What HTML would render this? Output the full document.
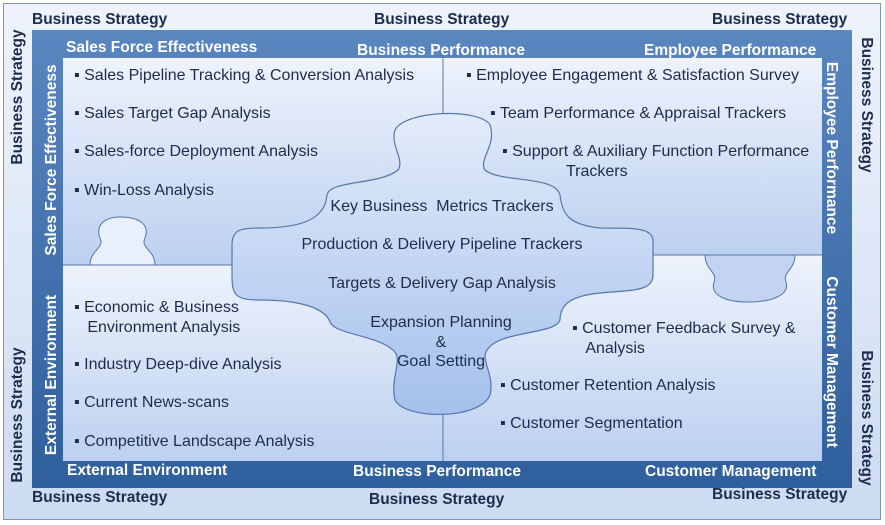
<!DOCTYPE html>
<html><head><meta charset="utf-8"><style>
body{margin:0;width:885px;height:525px;overflow:hidden;background:#fff;font-family:"Liberation Sans",sans-serif}
.a{position:absolute;white-space:nowrap}
.bs{font-weight:bold;font-size:15.5px;color:#1c2c4c}
.wh{font-weight:bold;font-size:15.5px;color:#fff}
.t{font-size:16px;color:#1f2b4a}
.v{position:absolute;white-space:nowrap;transform:translate(-50%,-50%) rotate(-90deg)}
.vr{position:absolute;white-space:nowrap;transform:translate(-50%,-50%) rotate(90deg)}
</style></head><body>
<svg width="885" height="525" style="position:absolute;left:0;top:0">
<defs>
<linearGradient id="o" x1="0" y1="0" x2="0" y2="1"><stop offset="0" stop-color="#eef3fb"/><stop offset="1" stop-color="#cddbf1"/></linearGradient>
<linearGradient id="f" x1="0" y1="0" x2="0" y2="1"><stop offset="0" stop-color="#5a86c0"/><stop offset="1" stop-color="#2f5f9c"/></linearGradient>
<linearGradient id="q" x1="0" y1="0" x2="0" y2="1"><stop offset="0" stop-color="#eef3fc"/><stop offset="1" stop-color="#bcd0f0"/></linearGradient>
<linearGradient id="c" x1="0" y1="0" x2="0" y2="1"><stop offset="0" stop-color="#e3ecfa"/><stop offset="1" stop-color="#a4c0ec"/></linearGradient>
</defs>
<rect x="3.5" y="3.5" width="877" height="516" fill="url(#o)" stroke="#7f97bb"/>
<rect x="32" y="30" width="820" height="458" fill="url(#f)"/>
<rect x="63" y="58" width="380" height="207" fill="url(#q)"/>
<rect x="443" y="58" width="379" height="197" fill="url(#q)"/>
<rect x="63" y="265" width="380" height="196" fill="url(#q)"/>
<rect x="443" y="255" width="379" height="206" fill="url(#q)"/>
<line x1="443" y1="58" x2="443" y2="461" stroke="#5578a8" stroke-width="1"/>
<line x1="63" y1="265" x2="443" y2="265" stroke="#5578a8"/>
<line x1="443" y1="255" x2="822" y2="255" stroke="#5578a8"/>
<path d="M90,265 C90,250 105,248 100,238 C95,225 105,217 120,217 C140,217 150,225 145,238 C140,248 155,250 155,265 Z" fill="#eaf0fb" stroke="#5578a8"/>
<path d="M705,255 C705,270 718,272 714,282 C710,295 725,302 748,302 C772,302 790,295 786,282 C782,272 795,270 795,255 Z" fill="#c2d4f2" stroke="#5578a8"/>
<path d="M327,195 C330,180 380,185 398,170 C405,160 390,145 395,130 C405,110 480,108 490,125 C497,145 478,160 485,170 C500,183 555,175 560,195 C562,215 570,225 600,228 C640,228 655,228 653,245 L653,275 C653,292 630,290 600,293 C570,296 560,305 560,320 C555,335 500,330 487,350 C480,360 495,375 490,395 C480,420 405,420 395,400 C390,380 402,362 395,352 C380,335 335,335 330,322 C325,308 300,300 260,300 C235,300 232,295 232,275 L232,245 C232,230 240,228 260,228 C300,228 325,220 327,195 Z" fill="url(#c)" stroke="#5578a8" stroke-width="1.2"/>
</svg>
<div class="a bs" style="left:32px;top:11px">Business Strategy</div>
<div class="a bs" style="left:374px;top:11px">Business Strategy</div>
<div class="a bs" style="left:712px;top:11px">Business Strategy</div>
<div class="a bs" style="left:32px;top:489px">Business Strategy</div>
<div class="a bs" style="left:369px;top:491px">Business Strategy</div>
<div class="a bs" style="left:712px;top:486px">Business Strategy</div>
<div class="v bs" style="left:18px;top:97px">Business Strategy</div>
<div class="v bs" style="left:18px;top:415px">Business Strategy</div>
<div class="vr bs" style="left:866px;top:105px">Business Strategy</div>
<div class="vr bs" style="left:866px;top:418px">Business Strategy</div>
<div class="a wh" style="left:66px;top:39px">Sales Force Effectiveness</div>
<div class="a wh" style="left:357px;top:42px">Business Performance</div>
<div class="a wh" style="left:644px;top:42px">Employee Performance</div>
<div class="a wh" style="left:67px;top:462px">External Environment</div>
<div class="a wh" style="left:353px;top:463px">Business Performance</div>
<div class="a wh" style="left:645px;top:463px">Customer Management</div>
<div class="v wh" style="left:52px;top:160px">Sales Force Effectiveness</div>
<div class="v wh" style="left:52px;top:375px">External Environment</div>
<div class="vr wh" style="left:831px;top:148px">Employee Performance</div>
<div class="vr wh" style="left:831px;top:362px">Customer Management</div>
<div class="a t" style="left:74px;top:67px">▪ Sales Pipeline Tracking &amp; Conversion Analysis</div>
<div class="a t" style="left:74px;top:105px">▪ Sales Target Gap Analysis</div>
<div class="a t" style="left:74px;top:143px">▪ Sales-force Deployment Analysis</div>
<div class="a t" style="left:74px;top:182px">▪ Win-Loss Analysis</div>
<div class="a t" style="left:466px;top:67px">▪ Employee Engagement &amp; Satisfaction Survey</div>
<div class="a t" style="left:490px;top:105px">▪ Team Performance &amp; Appraisal Trackers</div>
<div class="a t" style="left:502px;top:143px">▪ Support &amp; Auxiliary Function Performance</div>
<div class="a t" style="left:566px;top:163px">Trackers</div>
<div class="a t" style="left:74px;top:298px;line-height:20px">▪ Economic &amp; Business<br>&nbsp;&nbsp;&nbsp;Environment Analysis</div>
<div class="a t" style="left:74px;top:356px">▪ Industry Deep-dive Analysis</div>
<div class="a t" style="left:74px;top:394px">▪ Current News-scans</div>
<div class="a t" style="left:74px;top:433px">▪ Competitive Landscape Analysis</div>
<div class="a t" style="left:572px;top:319px;line-height:20px">▪ Customer Feedback Survey &amp;<br>&nbsp;&nbsp;&nbsp;Analysis</div>
<div class="a t" style="left:500px;top:377px">▪ Customer Retention Analysis</div>
<div class="a t" style="left:500px;top:415px">▪ Customer Segmentation</div>
<div class="a t" style="left:442px;top:198px;transform:translateX(-50%)">Key Business&nbsp; Metrics Trackers</div>
<div class="a t" style="left:442px;top:236px;transform:translateX(-50%)">Production &amp; Delivery Pipeline Trackers</div>
<div class="a t" style="left:442px;top:275px;transform:translateX(-50%)">Targets &amp; Delivery Gap Analysis</div>
<div class="a t" style="left:341px;top:313px;width:200px;text-align:center;line-height:19.5px">Expansion Planning<br>&amp;<br>Goal Setting</div>
</body></html>
